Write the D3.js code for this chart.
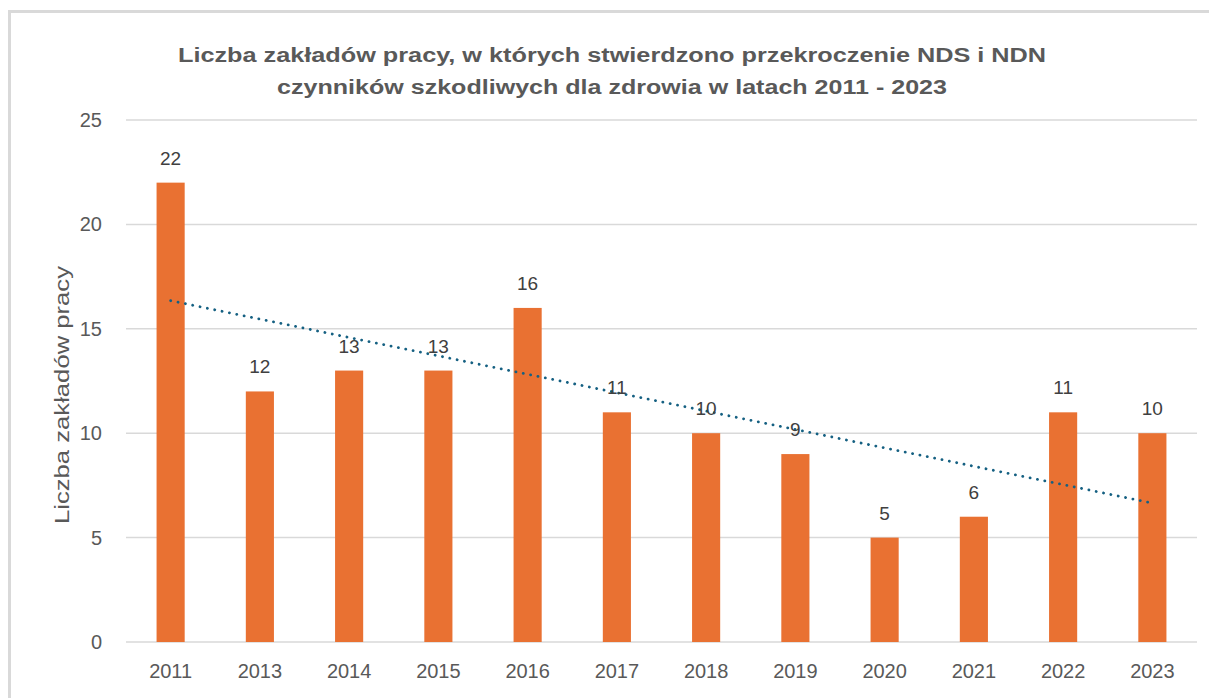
<!DOCTYPE html>
<html>
<head>
<meta charset="utf-8">
<script src="https://cdn.jsdelivr.net/npm/d3@7"></script>
<style>
  html, body { margin: 0; padding: 0; background: #fff; }
  svg { display: block; }
  text { font-family: "Liberation Sans", Arial, sans-serif; }
</style>
</head>
<body>
<div id="chart"></div>
<script>
// Data
const years = ["2011", "2013", "2014", "2015", "2016", "2017", "2018", "2019", "2020", "2021", "2022", "2023"];
const counts = [22, 12, 13, 13, 16, 11, 10, 9, 5, 6, 11, 10];
const yTicks = [0, 5, 10, 15, 20, 25];
const titleLines = [
    "Liczba zakładów pracy, w których stwierdzono przekroczenie NDS i NDN",
    "czynników szkodliwych dla zdrowia w latach 2011 - 2023"
];
const yLabel = "Liczba zakładów pracy";

const W = 1209, H = 698;
const margin = { top: 120, right: 12, bottom: 56, left: 126 };
const barColor = "#E97132";
const trendColor = "#156082";
const gray = "#595959";
const font = "'Liberation Sans', Arial, sans-serif";

const svg = d3.select("#chart").append("svg")
    .attr("width", W)
    .attr("height", H);

// frame (only top and left edges visible in the picture)
svg.append("path")
    .attr("d", `M9.5,${H} V11.5 H${W}`)
    .attr("fill", "none")
    .attr("stroke", "#d9d9d9")
    .attr("stroke-width", 3);

const x = d3.scaleBand()
    .domain(years)
    .range([margin.left, W - margin.right])
    .paddingInner(0.685)
    .paddingOuter(0.3425);

const y = d3.scaleLinear()
    .domain([0, 25])
    .range([H - margin.bottom, margin.top]);

// gridlines
svg.append("g")
    .selectAll("line")
    .data(yTicks)
    .join("line")
    .attr("x1", margin.left)
    .attr("x2", W - margin.right)
    .attr("y1", d => y(d))
    .attr("y2", d => y(d))
    .attr("stroke", "#d9d9d9")
    .attr("stroke-width", 1.5);

// y axis labels
const yAxis = svg.append("g")
    .attr("transform", `translate(${margin.left - 24},0)`)
    .call(d3.axisLeft(y).tickValues(yTicks).tickSize(0).tickPadding(0));
yAxis.select(".domain").remove();
yAxis.selectAll("text")
    .attr("font-size", 20)
    .attr("fill", gray)
    .style("font-family", font);

// x axis labels
const xAxis = svg.append("g")
    .attr("transform", `translate(0,${H - margin.bottom})`)
    .call(d3.axisBottom(x).tickSize(0).tickPadding(22));
xAxis.select(".domain").remove();
xAxis.selectAll("text")
    .attr("font-size", 20)
    .attr("fill", gray)
    .style("font-family", font);

// bars
svg.append("g")
    .selectAll("rect")
    .data(years)
    .join("rect")
    .attr("x", d => x(d))
    .attr("width", x.bandwidth())
    .attr("y", (d, i) => y(counts[i]))
    .attr("height", (d, i) => y(0) - y(counts[i]))
    .attr("fill", barColor);

// linear trendline (least squares over category index)
const n = counts.length;
const xs = d3.range(1, n + 1);
const mx = d3.mean(xs), my = d3.mean(counts);
const slope = d3.sum(xs, (v, i) => (v - mx) * (counts[i] - my)) / d3.sum(xs, v => (v - mx) ** 2);
const icpt = my - slope * mx;
const trend = [0, n - 1].map(i => ({ year: years[i], v: icpt + slope * (i + 1) }));

svg.append("path")
    .datum(trend)
    .attr("d", d3.line().x(d => x(d.year) + x.bandwidth() / 2).y(d => y(d.v)))
    .attr("fill", "none")
    .attr("stroke", trendColor)
    .attr("stroke-width", 2.8)
    .attr("stroke-linecap", "round")
    .attr("stroke-dasharray", "0.1 7.4");

// data labels
svg.append("g")
    .selectAll("text")
    .data(years)
    .join("text")
    .attr("x", d => x(d) + x.bandwidth() / 2)
    .attr("y", (d, i) => y(counts[i]) - 18)
    .attr("text-anchor", "middle")
    .attr("font-size", 19)
    .attr("fill", "#404040")
    .text((d, i) => counts[i]);

// y axis title
svg.append("text")
    .attr("transform", `translate(69,${(y(0) + y(25)) / 2 + 14}) rotate(-90)`)
    .attr("text-anchor", "middle")
    .attr("font-size", 21)
    .attr("fill", gray)
    .attr("textLength", 258)
    .attr("lengthAdjust", "spacingAndGlyphs")
    .text(yLabel);

// chart title
const titleWidths = [868, 670];
svg.append("g")
    .selectAll("text")
    .data(titleLines)
    .join("text")
    .attr("x", 612)
    .attr("y", (d, i) => 62 + i * 32)
    .attr("text-anchor", "middle")
    .attr("font-size", 20)
    .attr("font-weight", "bold")
    .attr("fill", gray)
    .attr("textLength", (d, i) => titleWidths[i])
    .attr("lengthAdjust", "spacingAndGlyphs")
    .text(d => d);
</script>
</body>
</html>
